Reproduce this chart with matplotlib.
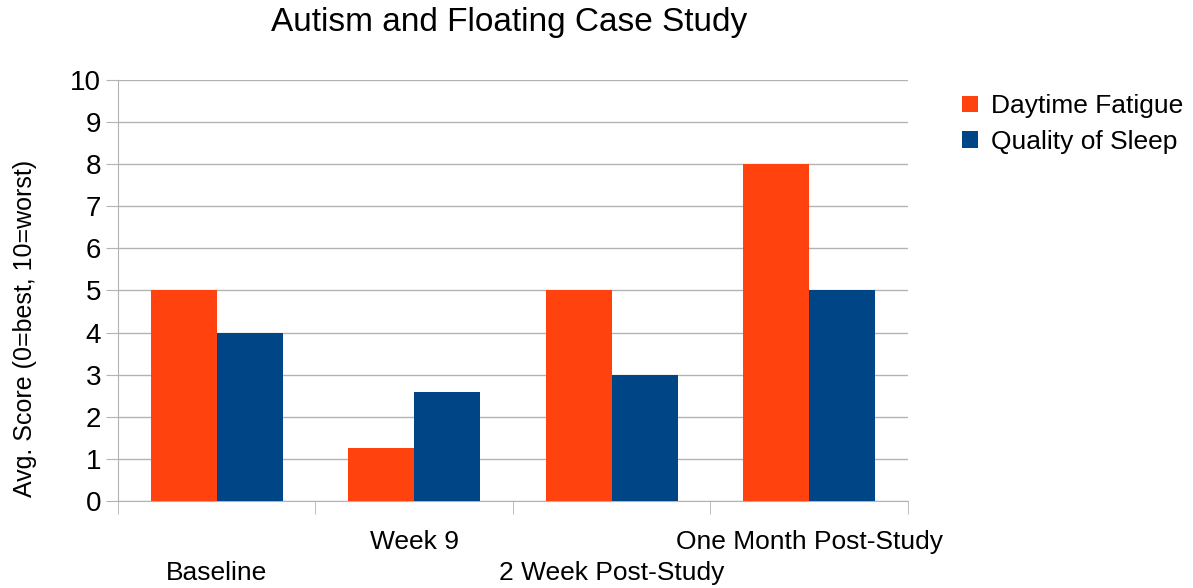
import numpy as np
import matplotlib.pyplot as plt

plt.rcParams["font.family"] = ["Liberation Sans", "DejaVu Sans"]

categories = ["Baseline", "Week 9", "2 Week Post-Study", "One Month Post-Study"]
daytime_fatigue = [5, 1.25, 5, 8]
quality_of_sleep = [4, 2.6, 3, 5]
series_names = ["Daytime Fatigue", "Quality of Sleep"]
colors = ["#ff420e", "#004586"]

x = np.arange(len(categories))
w = 0.335

fig = plt.figure(figsize=(11.93, 5.88), dpi=100)
ax = fig.add_axes([0.0989, 0.148, 0.6622, 0.716])

ax.bar(x - w / 2, daytime_fatigue, w, color=colors[0], label=series_names[0], zorder=3)
ax.bar(x + w / 2, quality_of_sleep, w, color=colors[1], label=series_names[1], zorder=3)

ax.set_xlim(-0.5, len(categories) - 0.5)
ax.set_ylim(0, 10)
ax.set_yticks(range(0, 11))
ax.grid(axis="y", color="#b3b3b3", linewidth=1, zorder=0)

for side in ["top", "right"]:
    ax.spines[side].set_visible(False)
for side in ["left", "bottom"]:
    ax.spines[side].set_color("#b3b3b3")

ax.tick_params(axis="y", length=9, color="#b3b3b3", labelsize=20, pad=3)

# category labels in two staggered rows, boundary ticks as minor ticks
ax.set_xticks(x, categories)
ax.tick_params(axis="x", which="major", length=0, labelsize=19)
for i, t in enumerate(ax.xaxis.get_major_ticks()):
    t.set_pad(43 if i % 2 == 0 else 21)
ax.set_xticks(np.arange(-0.5, len(categories)), minor=True)
ax.tick_params(axis="x", which="minor", length=9, color="#b3b3b3")

ax.set_ylabel("Avg. Score (0=best, 10=worst)", fontsize=18)
ax.yaxis.set_label_coords(-0.102, 0.411)
fig.text(0.427, 0.962, "Autism and Floating Case Study", fontsize=24,
         ha="center", va="center")

ax.legend(loc="upper left", bbox_to_anchor=(1.045, 1.01), frameon=False,
          fontsize=19, handlelength=0.6, handleheight=0.6, handletextpad=0.5,
          labelspacing=0.45, borderaxespad=0.3)

fig.savefig("out.png", dpi=100)
